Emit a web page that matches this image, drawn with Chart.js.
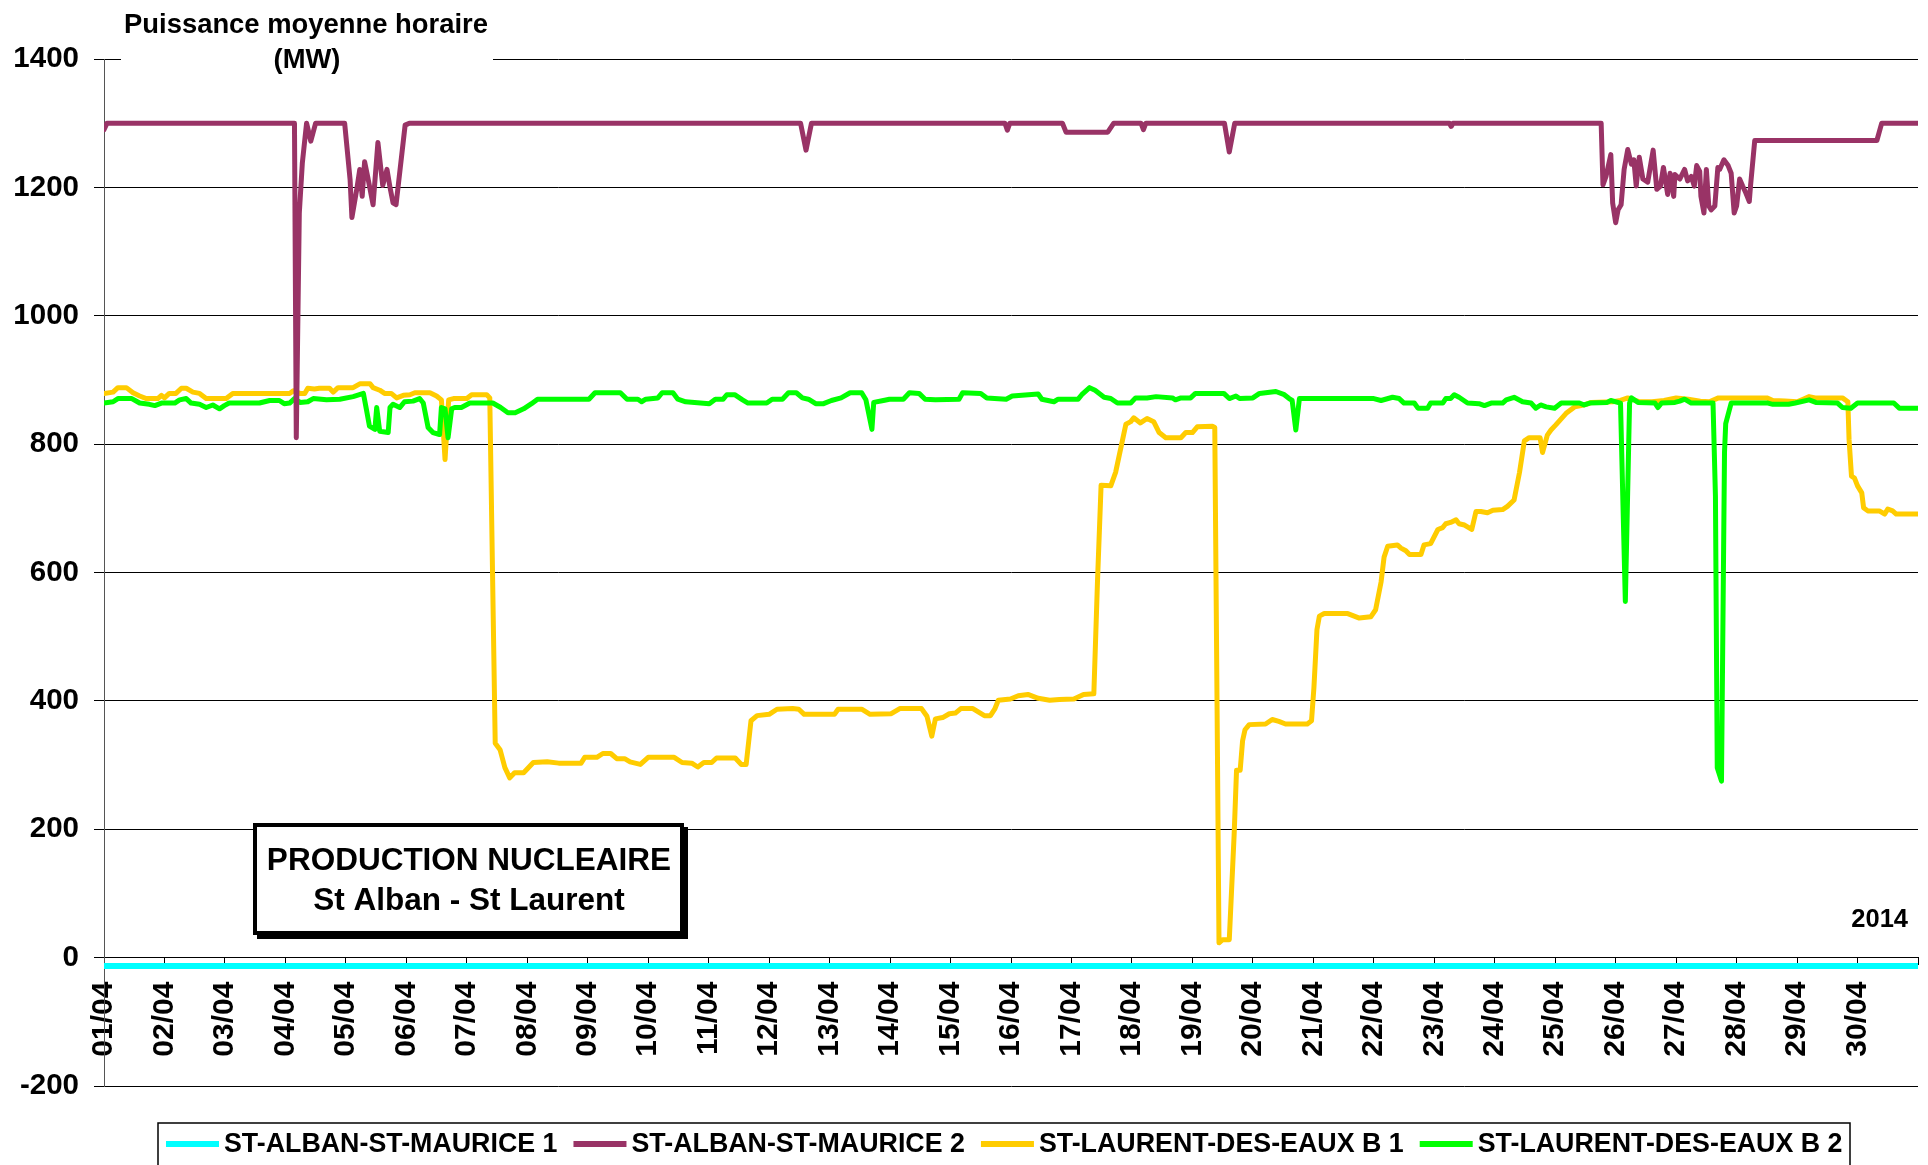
<!DOCTYPE html>
<html><head><meta charset="utf-8">
<script src="https://cdn.jsdelivr.net/npm/chart.js@4.4.1/dist/chart.umd.min.js"></script>
<style>html,body{margin:0;padding:0;background:#fff;}#wrap{width:1928px;height:1165px;}</style>
</head><body><div id="wrap"><canvas id="c" width="1928" height="1165"></canvas></div>
<script>
const dayLabels = ['01/04','02/04','03/04','04/04','05/04','06/04','07/04','08/04','09/04','10/04','11/04','12/04','13/04','14/04','15/04','16/04','17/04','18/04','19/04','20/04','21/04','22/04','23/04','24/04','25/04','26/04','27/04','28/04','29/04','30/04'];
const titleLines = ['Puissance moyenne horaire', '(MW)'];
const boxLines = ['PRODUCTION NUCLEAIRE', 'St Alban - St Laurent'];
const yearLabel = '2014';
const seriesNames = ['ST-ALBAN-ST-MAURICE 1', 'ST-ALBAN-ST-MAURICE 2', 'ST-LAURENT-DES-EAUX B 1', 'ST-LAURENT-DES-EAUX B 2'];
const seriesColors = ['#00FFFF', '#993366', '#FFCC00', '#00FF00'];

// time in days since 01/04 00:00
const alban1Days = [0, 30];
const alban1Values = [-13, -13];

const alban2Days = [0,0.05,3.15,3.18,3.23,3.28,3.35,3.42,3.5,3.98,4.07,4.1,4.18,4.23,4.27,4.31,4.36,4.45,4.53,4.61,4.68,4.73,4.78,4.83,4.98,5.05,11.52,11.61,11.7,14.9,14.94,14.98,15.85,15.91,16.6,16.7,17.15,17.19,17.23,18.53,18.61,18.7,22.25,22.28,22.31,24.76,24.79,24.84,24.92,24.95,25.0,25.04,25.09,25.14,25.2,25.26,25.3,25.34,25.39,25.45,25.53,25.62,25.68,25.74,25.79,25.86,25.9,25.96,25.98,26.06,26.14,26.19,26.25,26.3,26.34,26.39,26.41,26.46,26.5,26.54,26.58,26.64,26.69,26.72,26.79,26.86,26.91,26.96,27.0,27.05,27.1,27.15,27.21,27.23,27.3,29.32,29.4,30];
const alban2Values = [1290,1300,1300,810,1160,1238,1300,1272,1300,1300,1212,1153,1197,1228,1186,1240,1217,1173,1270,1203,1228,1200,1176,1173,1297,1300,1300,1258,1300,1300,1289,1300,1300,1286,1286,1300,1300,1290,1300,1300,1255,1300,1300,1295,1300,1300,1204,1217,1251,1176,1145,1165,1173,1228,1259,1236,1243,1202,1247,1213,1208,1258,1197,1202,1231,1189,1222,1186,1220,1213,1228,1210,1217,1202,1234,1225,1186,1160,1228,1171,1165,1171,1231,1228,1243,1234,1222,1160,1171,1213,1202,1192,1178,1202,1273,1273,1300,1300];

const laurent1Days = [0,0.15,0.23,0.37,0.48,0.59,0.7,0.89,0.95,1.0,1.08,1.19,1.28,1.36,1.47,1.58,1.69,2.02,2.13,3.07,3.13,3.24,3.32,3.37,3.48,3.56,3.73,3.79,3.87,4.12,4.23,4.4,4.45,4.56,4.64,4.75,4.84,4.95,5.06,5.14,5.39,5.5,5.58,5.64,5.7,5.78,6.0,6.08,6.33,6.38,6.47,6.55,6.63,6.71,6.79,6.94,7.1,7.33,7.52,7.89,7.95,8.15,8.25,8.38,8.48,8.61,8.7,8.87,9.0,9.43,9.56,9.72,9.82,9.92,10.05,10.13,10.44,10.54,10.62,10.7,10.8,11.0,11.13,11.39,11.49,11.58,12.08,12.14,12.53,12.67,13.02,13.16,13.52,13.61,13.69,13.75,13.87,13.98,14.08,14.17,14.37,14.56,14.66,14.73,14.79,14.99,15.12,15.28,15.45,15.64,15.8,16.04,16.2,16.37,16.43,16.49,16.65,16.73,16.9,16.98,17.03,17.14,17.25,17.36,17.45,17.56,17.81,17.89,18.0,18.08,18.33,18.37,18.44,18.5,18.61,18.69,18.73,18.79,18.83,18.87,18.94,19.21,19.32,19.43,19.54,19.9,19.97,20.01,20.06,20.1,20.18,20.57,20.76,20.95,21.03,21.12,21.17,21.23,21.39,21.45,21.53,21.59,21.78,21.83,21.94,22.06,22.14,22.19,22.27,22.36,22.41,22.5,22.62,22.69,22.77,22.88,22.97,23.13,23.21,23.32,23.41,23.49,23.57,23.75,23.79,23.87,23.93,24.01,24.18,24.32,24.43,24.51,24.6,24.95,25.08,25.2,25.4,25.6,25.8,26.0,26.2,26.4,26.55,26.7,27.0,27.5,27.6,27.8,28.0,28.1,28.2,28.3,28.75,28.84,28.86,28.9,28.95,29.0,29.07,29.1,29.17,29.36,29.45,29.5,29.58,29.64,30.0];
const laurent1Values = [879,881,888,888,880,875,871,871,876,872,879,879,887,887,881,879,871,871,879,879,883,879,879,887,886,887,887,881,888,888,894,894,888,884,879,879,872,876,877,880,880,875,869,776,869,871,871,877,877,872,334,324,296,280,288,288,304,305,303,303,312,312,318,318,310,310,305,301,312,312,304,303,297,304,304,311,311,301,301,369,377,379,387,388,387,379,379,387,387,379,380,388,388,376,345,372,374,380,381,388,388,377,377,387,401,403,408,410,404,401,402,403,410,411,585,736,735,756,831,835,841,833,840,835,818,810,810,818,818,827,828,826,23,28,28,191,292,292,338,355,363,364,371,368,364,364,369,421,511,532,536,536,529,531,542,585,624,641,643,638,634,628,628,643,645,667,670,676,678,682,676,674,667,695,695,693,697,698,703,713,756,805,810,810,787,814,822,830,848,858,860,862,865,866,868,872,866,866,868,872,870,867,866,872,872,872,868,867,866,870,874,872,872,866,807,750,747,735,724,701,696,696,691,699,696,691,691];

const laurent2Days = [0,0.15,0.23,0.46,0.59,0.75,0.84,0.95,1.17,1.25,1.36,1.44,1.58,1.69,1.8,1.91,1.99,2.07,2.57,2.74,2.9,2.98,3.07,3.15,3.24,3.37,3.46,3.68,3.9,4.12,4.29,4.34,4.39,4.48,4.51,4.56,4.7,4.73,4.78,4.89,4.97,5.11,5.22,5.28,5.36,5.44,5.55,5.58,5.64,5.69,5.75,5.8,5.91,6.05,6.43,6.56,6.68,6.8,6.94,7.07,7.17,8.02,8.12,8.54,8.65,8.83,8.89,8.96,9.16,9.23,9.41,9.49,9.62,10.01,10.11,10.24,10.3,10.43,10.56,10.65,10.96,11.05,11.22,11.32,11.45,11.55,11.65,11.77,11.9,12.03,12.19,12.34,12.53,12.6,12.7,12.73,12.89,12.99,13.22,13.32,13.48,13.58,13.75,14.14,14.2,14.5,14.6,14.92,15.02,15.45,15.51,15.71,15.78,16.11,16.17,16.3,16.39,16.54,16.65,16.76,16.98,17.06,17.25,17.4,17.67,17.72,17.81,17.97,18.05,18.52,18.61,18.72,18.78,19.0,19.11,19.38,19.52,19.6,19.65,19.71,19.77,21.0,21.12,21.31,21.42,21.5,21.67,21.73,21.89,21.94,22.14,22.19,22.27,22.33,22.41,22.55,22.74,22.83,22.94,23.13,23.19,23.32,23.46,23.6,23.68,23.76,23.85,23.99,24.1,24.4,24.48,24.57,24.86,24.92,25.08,25.16,25.23,25.26,25.37,25.65,25.7,25.76,25.98,26.06,26.14,26.25,26.61,26.65,26.68,26.75,26.8,26.82,26.91,27.52,27.6,27.86,27.97,28.2,28.31,28.67,28.75,28.89,29.0,29.6,29.69,30.0];
const laurent2Values = [864,866,871,871,864,862,860,864,864,869,871,864,862,857,861,855,860,864,864,868,868,863,864,871,865,866,871,869,870,874,879,854,828,823,857,820,818,857,862,857,866,867,871,864,826,818,815,857,855,810,855,857,857,864,864,857,849,849,855,863,870,870,880,880,870,870,866,870,872,880,880,870,866,863,870,870,877,877,869,864,864,870,870,880,880,872,870,863,863,868,872,880,880,869,823,865,868,870,870,880,879,870,869,870,880,879,872,870,875,878,870,866,870,870,877,888,884,873,871,864,864,872,872,874,872,869,872,872,879,879,871,875,871,872,879,882,877,871,868,822,871,871,868,873,871,864,864,856,856,864,864,871,871,877,873,864,863,860,864,864,869,873,866,864,856,861,858,856,864,864,861,864,865,868,864,555,864,872,865,864,857,864,865,867,870,864,864,719,296,275,787,832,864,864,862,862,864,869,865,864,857,856,864,864,856,856];

const yMin = -200, yMax = 1400, yStep = 200;
const FONT = 'Liberation Sans, Arial, sans-serif';

function pts(days, vals) { return days.map((d, i) => ({x: d, y: vals[i]})); }

const decor = {
  id: 'decor',
  afterDraw(chart) {
    const ctx = chart.ctx;
    ctx.save();
    // title with white background
    ctx.fillStyle = '#fff';
    ctx.fillRect(121, 0, 372, 75);
    ctx.fillStyle = '#000';
    ctx.textAlign = 'center';
    ctx.textBaseline = 'alphabetic';
    ctx.font = 'bold 27.4px ' + FONT;
    ctx.fillText(titleLines[0], 306, 33);
    ctx.fillText(titleLines[1], 307, 68);
    // annotation box
    ctx.fillStyle = '#000';
    ctx.fillRect(257, 827, 431, 112);
    ctx.fillStyle = '#fff';
    ctx.fillRect(253, 823, 431, 112);
    ctx.lineWidth = 4;
    ctx.strokeStyle = '#000';
    ctx.strokeRect(255, 825, 427, 108);
    ctx.fillStyle = '#000';
    ctx.font = 'bold 31.5px ' + FONT;
    ctx.fillText(boxLines[0], 469, 870);
    ctx.fillText(boxLines[1], 469, 910);
    // year
    ctx.textAlign = 'right';
    ctx.font = 'bold 25.5px ' + FONT;
    ctx.fillText(yearLabel, 1908, 927);
    // legend
    ctx.lineWidth = 1.5;
    ctx.strokeStyle = '#000';
    ctx.strokeRect(158, 1123, 1692, 60);
    ctx.font = 'bold 26.8px ' + FONT;
    ctx.textAlign = 'left';
    ctx.textBaseline = 'middle';
    let x = 166;
    const ly = 1144;
    seriesNames.forEach((name, i) => {
      ctx.fillStyle = seriesColors[i];
      ctx.fillRect(x, ly - 3, 53, 6);
      ctx.fillStyle = '#000';
      ctx.fillText(name, x + 58, ly + 1);
      x += 58 + ctx.measureText(name).width + 16;
    });
    ctx.restore();
  }
};

const ds = (label, days, vals, color, width, order) => ({
  label, data: pts(days, vals), borderColor: color, backgroundColor: color,
  borderWidth: width, pointRadius: 0, pointHoverRadius: 0, tension: 0,
  borderJoinStyle: 'round', borderCapStyle: 'round', order, fill: false
});

new Chart(document.getElementById('c'), {
  type: 'line',
  data: {
    datasets: [
      ds(seriesNames[0], alban1Days, alban1Values, seriesColors[0], 6, 3),
      ds(seriesNames[1], alban2Days, alban2Values, seriesColors[1], 5, 0),
      ds(seriesNames[2], laurent1Days, laurent1Values, seriesColors[2], 5, 2),
      ds(seriesNames[3], laurent2Days, laurent2Values, seriesColors[3], 5, 1)
    ]
  },
  options: {
    responsive: false,
    devicePixelRatio: 1,
    animation: false,
    events: [],
    layout: { padding: { left: 0, right: 10, top: 59, bottom: 79 } },
    plugins: { legend: { display: false }, tooltip: { enabled: false }, title: { display: false } },
    scales: {
      x: {
        type: 'linear', min: 0, max: 30,
        position: { y: 0 },
        grid: { drawOnChartArea: false, drawTicks: true, tickLength: 7, color: '#000', lineWidth: 1 },
        border: { display: true, color: '#000', width: 1 },
        ticks: {
          stepSize: 1, autoSkip: false, maxRotation: 90, minRotation: 90, padding: 17,
          color: '#000', font: { family: FONT, size: 30, weight: 'bold' },
          callback: (v) => (Number.isInteger(v) && v < dayLabels.length) ? dayLabels[v] : ''
        },
        afterFit: (s) => { s.paddingLeft = 0; s.paddingRight = 0; }
      },
      y: {
        min: yMin, max: yMax,
        grid: { color: '#000', lineWidth: 1, tickLength: 10, drawTicks: true },
        border: { display: true, color: '#555', width: 1 },
        ticks: {
          stepSize: yStep, padding: 15, color: '#000',
          font: { family: FONT, size: 29.5, weight: 'bold' },
          callback: (v) => String(v)
        },
        afterFit: (s) => { s.width = 104; s.paddingTop = 0; s.paddingBottom = 0; }
      }
    }
  },
  plugins: [decor]
});
</script>
</body></html>
